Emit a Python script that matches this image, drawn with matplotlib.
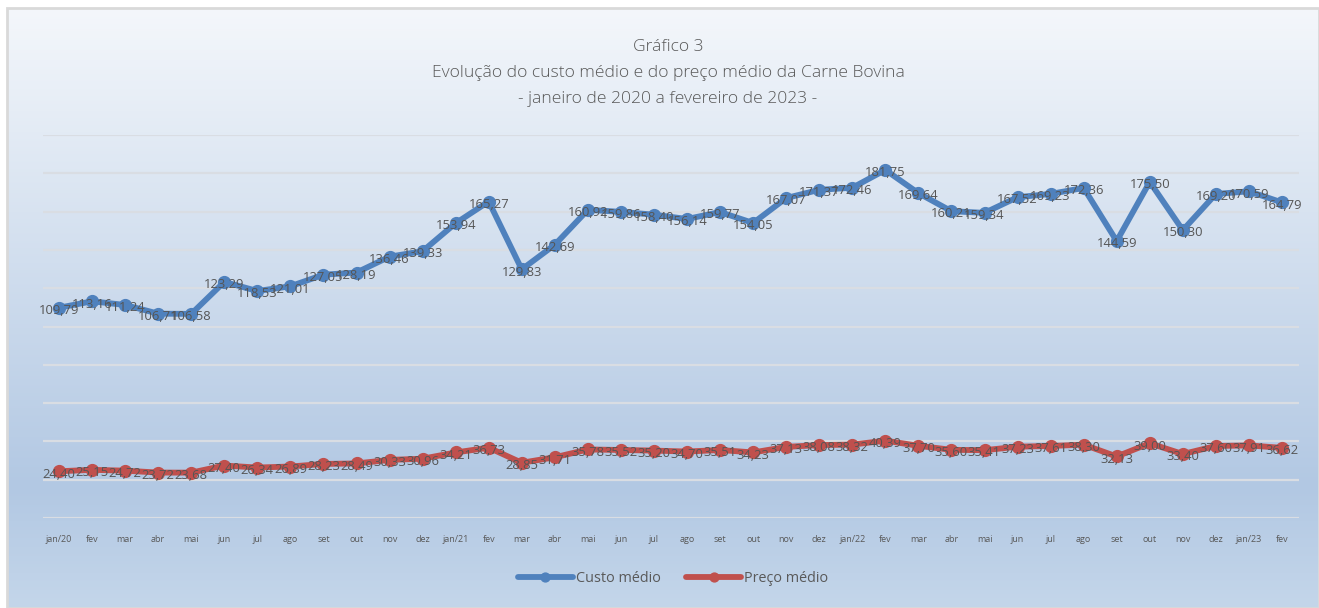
import matplotlib
matplotlib.use("Agg")
import matplotlib.pyplot as plt
import numpy as np
from matplotlib.colors import LinearSegmentedColormap
from matplotlib.patches import Rectangle

plt.rcParams["font.family"] = ["Open Sans", "DejaVu Sans"]

# Data
months = ["jan/20", "fev", "mar", "abr", "mai", "jun", "jul", "ago", "set", "out", "nov", "dez",
          "jan/21", "fev", "mar", "abr", "mai", "jun", "jul", "ago", "set", "out", "nov", "dez",
          "jan/22", "fev", "mar", "abr", "mai", "jun", "jul", "ago", "set", "out", "nov", "dez",
          "jan/23", "fev"]

custo_medio = [109.79, 113.16, 111.24, 106.71, 106.58, 123.29, 118.53, 121.01, 127.05, 128.19,
               136.46, 139.33, 153.94, 165.27, 129.83, 142.69, 160.92, 159.86, 158.40, 156.14,
               159.77, 154.05, 167.07, 171.37, 172.46, 181.75, 169.64, 160.21, 159.34, 167.52,
               169.23, 172.36, 144.59, 175.50, 150.30, 169.20, 170.59, 164.79]

preco_medio = [24.40, 25.15, 24.72, 23.72, 23.68, 27.40, 26.34, 26.89, 28.23, 28.49,
               30.33, 30.96, 34.21, 36.73, 28.85, 31.71, 35.78, 35.52, 35.20, 34.70,
               35.51, 34.23, 37.13, 38.08, 38.32, 40.39, 37.70, 35.60, 35.41, 37.23,
               37.61, 38.30, 32.13, 39.00, 33.40, 37.60, 37.91, 36.62]

series_names = ["Custo médio", "Preço médio"]
series_colors = ["#4f81bd", "#c0504d"]
text_color = "#595959"

W, H = 1319, 608
fig = plt.figure(figsize=(W / 100, H / 100), dpi=100)
fig.patch.set_facecolor("white")

# chart area background: light gradient box with grey border
bx0, by1 = 7 / W, 1 - 8 / H
bg_ax = fig.add_axes([bx0, 0, 1 - bx0, by1])
bg_ax.set_axis_off()
cmap = LinearSegmentedColormap.from_list(
    "bg", [(0.0, "#c4d6ea"), (0.2, "#b2c8e3"), (1.0, "#f4f7fb")])
grad = np.linspace(0, 1, 256).reshape(-1, 1)
bg_ax.imshow(grad, aspect="auto", cmap=cmap, origin="lower", extent=[0, 1, 0, 1])
bg_ax.set_xlim(0, 1)
bg_ax.set_ylim(0, 1)
fig.patches.append(Rectangle((bx0, 0), 1 - bx0, by1, transform=fig.transFigure,
                             fill=False, edgecolor="#d9d9d9", linewidth=2, zorder=5))

# main plot
ax = fig.add_axes([42.5 / W, 1 - 518 / H, (1298.5 - 42.5) / W, (518 - 135) / H])
ax.patch.set_alpha(0)
x = np.arange(len(months))

for vals, name, col in zip([custo_medio, preco_medio], series_names, series_colors):
    ax.plot(x, vals, color=col, linewidth=4.2, marker="o", markersize=8.5,
            markeredgecolor=col, label=name, zorder=3, solid_capstyle="round")
    for xi, v in zip(x, vals):
        ax.annotate(f"{v:.2f}".replace(".", ","), (xi, v), xytext=(0, -2),
                    textcoords="offset points", ha="center", va="center",
                    fontsize=9.4, color="#555555", zorder=4)

ax.set_xlim(-0.5, len(months) - 0.5)
ax.set_ylim(0, 200)
ax.set_yticks(np.arange(0, 201, 20))
ax.set_yticklabels([])
ax.grid(axis="y", color="#d9dde3", linewidth=1.6, zorder=1)
ax.set_xticks(x)
ax.set_xticklabels(months, fontsize=6.5, color=text_color)
ax.tick_params(axis="both", length=0)
ax.tick_params(axis="x", pad=12)
for sp in ax.spines.values():
    sp.set_visible(False)

# title lines
title_lines = ["Gráfico 3",
               "Evolução do custo médio e do preço médio da Carne Bovina",
               "- janeiro de 2020 a fevereiro de 2023 -"]
for i, line in enumerate(title_lines):
    fig.text(668 / W, 1 - (47 + 26 * i) / H, line, ha="center", va="center",
             fontsize=12.6, fontweight="light", color=text_color)

fig.legend(loc="center", bbox_to_anchor=(673 / W, 1 - 579 / H), ncol=2, frameon=False,
           fontsize=10.4, labelcolor=text_color, handlelength=3.8, columnspacing=1.8,
           handletextpad=0.2, markerscale=0.75)

fig.savefig("out.png", dpi=100)
